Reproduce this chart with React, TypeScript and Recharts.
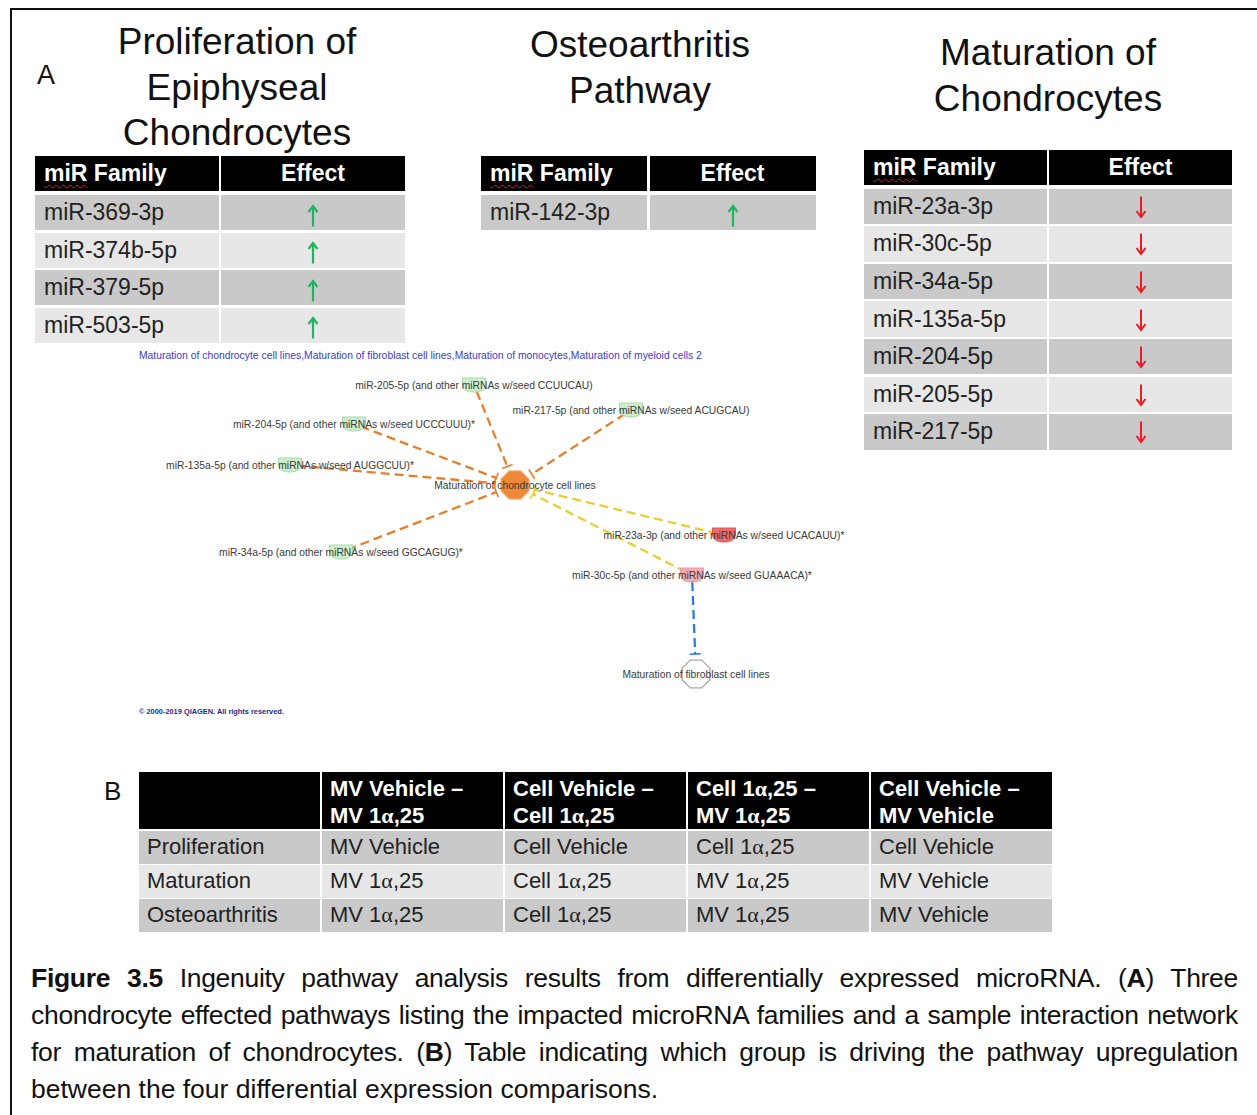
import React from 'react';
import { ScatterChart, Scatter, XAxis, YAxis, ReferenceLine } from 'recharts';

const W = 1257;
const H = 1115;
const FONT = '"Liberation Sans", Arial, Helvetica, sans-serif';
const SERIF = '"Liberation Serif", "Times New Roman", serif';

// ---------- Panel A tables ----------
const tableHeaders = ['miR Family', 'Effect'];
const prolifTitle = ['Proliferation of', 'Epiphyseal', 'Chondrocytes'];
const prolifFamilies = ['miR-369-3p', 'miR-374b-5p', 'miR-379-5p', 'miR-503-5p'];
const prolifEffects = ['up', 'up', 'up', 'up'];
const oaTitle = ['Osteoarthritis', 'Pathway'];
const oaFamilies = ['miR-142-3p'];
const oaEffects = ['up'];
const matTitle = ['Maturation of', 'Chondrocytes'];
const matFamilies = ['miR-23a-3p', 'miR-30c-5p', 'miR-34a-5p', 'miR-135a-5p', 'miR-204-5p', 'miR-205-5p', 'miR-217-5p'];
const matEffects = ['down', 'down', 'down', 'down', 'down', 'down', 'down'];

// ---------- Network ----------
const networkTitle = 'Maturation of chondrocyte cell lines,Maturation of fibroblast cell lines,Maturation of monocytes,Maturation of myeloid cells 2';
const copyright = '\u00a9 2000-2019 QIAGEN. All rights reserved.';
const nodeIds = ['central', 'fibro', 'm205', 'm217', 'm204', 'm135', 'm34', 'm23', 'm30'];
const nodeLabels = [
  'Maturation of chondrocyte cell lines',
  'Maturation of fibroblast cell lines',
  'miR-205-5p (and other miRNAs w/seed CCUUCAU)',
  'miR-217-5p (and other miRNAs w/seed ACUGCAU)',
  'miR-204-5p (and other miRNAs w/seed UCCCUUU)*',
  'miR-135a-5p (and other miRNAs w/seed AUGGCUU)*',
  'miR-34a-5p (and other miRNAs w/seed GGCAGUG)*',
  'miR-23a-3p (and other miRNAs w/seed UCACAUU)*',
  'miR-30c-5p (and other miRNAs w/seed GUAAACA)*',
];
const nodeX = [515, 696, 474, 631, 354, 290, 341, 724, 692];
const nodeY = [485, 674, 385, 410, 424, 465, 552, 535, 575];
const nodeKinds = ['function', 'functionEmpty', 'mirGreen', 'mirGreen', 'mirGreen', 'mirGreen', 'mirGreen', 'mirRed', 'mirPink'];
const edgeFrom = ['m205', 'm217', 'm204', 'm135', 'm34', 'm23', 'm30', 'm30'];
const edgeTo = ['central', 'central', 'central', 'central', 'central', 'central', 'central', 'fibro'];
const edgeKinds = ['orange', 'orange', 'orange', 'orange', 'orange', 'yellow', 'yellow', 'blue'];

// ---------- Panel B table ----------
const compHeaderLine1 = ['', 'MV Vehicle \u2013', 'Cell Vehicle \u2013', 'Cell 1\u03b1,25 \u2013', 'Cell Vehicle \u2013'];
const compHeaderLine2 = ['', 'MV 1\u03b1,25', 'Cell 1\u03b1,25', 'MV 1\u03b1,25', 'MV Vehicle'];
const pathwayNames = ['Proliferation', 'Maturation', 'Osteoarthritis'];
const prolifDrivers = ['MV Vehicle', 'Cell Vehicle', 'Cell 1\u03b1,25', 'Cell Vehicle'];
const matDrivers = ['MV 1\u03b1,25', 'Cell 1\u03b1,25', 'MV 1\u03b1,25', 'MV Vehicle'];
const oaDrivers = ['MV 1\u03b1,25', 'Cell 1\u03b1,25', 'MV 1\u03b1,25', 'MV Vehicle'];

// ---------- Caption ----------
const captionLines = [
  [['b', 'Figure 3.5'], ['n', ' Ingenuity pathway analysis results from differentially expressed microRNA. ('], ['b', 'A'], ['n', ') Three']],
  [['n', 'chondrocyte effected pathways listing the impacted microRNA families and a sample interaction network']],
  [['n', 'for maturation of chondrocytes. ('], ['b', 'B'], ['n', ') Table indicating which group is driving the pathway upregulation']],
  [['n', 'between the four differential expression comparisons.']],
];

const DARK = '#c9c9c9';
const LIGHT = '#e7e7e7';

const EDGE_COLORS: Record<string, string> = { orange: '#e57f2c', yellow: '#e8cd32', blue: '#2d7dd8' };

function withAlpha(s: string) {
  const parts = s.split('\u03b1');
  const out: React.ReactNode[] = [];
  parts.forEach((p, i) => {
    out.push(<span key={'p' + i}>{p}</span>);
    if (i < parts.length - 1) out.push(<span key={'a' + i} style={{ fontFamily: SERIF }}>{'\u03b1'}</span>);
  });
  return out;
}

function Box(props: { left: number; top: number; w: number; h: number; bg: string; children?: React.ReactNode; style?: React.CSSProperties }) {
  return (
    <div
      style={{
        position: 'absolute',
        left: props.left,
        top: props.top,
        width: props.w,
        height: props.h,
        background: props.bg,
        display: 'flex',
        alignItems: 'center',
        boxSizing: 'border-box',
        whiteSpace: 'nowrap',
        ...props.style,
      }}
    >
      {props.children}
    </div>
  );
}

function Arrow(props: { up: boolean }) {
  const color = props.up ? '#1fb45e' : '#ee1c24';
  return (
    <svg width={12} height={23} viewBox="0 0 12 23" style={{ display: 'block' }}>
      {props.up ? (
        <>
          <line x1={6} y1={2} x2={6} y2={22.5} stroke={color} strokeWidth={2.2} />
          <polyline points="1.5,8 6,2 10.5,8" fill="none" stroke={color} strokeWidth={2.2} strokeLinejoin="miter" />
        </>
      ) : (
        <>
          <line x1={6} y1={0.5} x2={6} y2={21} stroke={color} strokeWidth={2} />
          <polyline points="1.5,15 6,21 10.5,15" fill="none" stroke={color} strokeWidth={2} strokeLinejoin="miter" />
        </>
      )}
    </svg>
  );
}

function Title(props: { cx: number; top: number; lines: string[] }) {
  return (
    <div style={{ position: 'absolute', left: props.cx - 250, top: props.top, width: 500, textAlign: 'center', fontSize: 37, lineHeight: '45.5px', color: '#111' }}>
      {props.lines.map((l, i) => (
        <div key={i}>{l}</div>
      ))}
    </div>
  );
}

function MirTable(props: {
  left: number; top: number; colW: number; gap: number; headerH: number; firstRow: number; rowH: number; pitch: number;
  families: string[]; effects: string[];
}) {
  const { left, top, colW, gap, headerH, firstRow, rowH, pitch, families, effects } = props;
  const x2 = left + colW + gap;
  return (
    <>
      <Box left={left} top={top} w={colW} h={headerH} bg="#000" style={{ color: '#fff', fontWeight: 'bold', fontSize: 23, paddingLeft: 9 }}>
        <span style={{ textDecorationLine: 'underline', textDecorationStyle: 'wavy', textDecorationColor: '#d42020', textDecorationThickness: 1, textUnderlineOffset: 3 }}>
          {tableHeaders[0].split(' ')[0]}
        </span>
        &nbsp;{tableHeaders[0].split(' ')[1]}
      </Box>
      <Box left={x2} top={top} w={colW} h={headerH} bg="#000" style={{ color: '#fff', fontWeight: 'bold', fontSize: 23, justifyContent: 'center' }}>
        {tableHeaders[1]}
      </Box>
      {families.map((f, i) => {
        const y = firstRow + i * pitch;
        const bg = i % 2 === 0 ? DARK : LIGHT;
        const up = effects[i] === 'up';
        return (
          <React.Fragment key={f}>
            <Box left={left} top={y} w={colW} h={rowH} bg={bg} style={{ color: '#222', fontSize: 23, paddingLeft: 9 }}>
              {f}
            </Box>
            <Box left={x2} top={y} w={colW} h={rowH} bg={bg} style={{ justifyContent: 'center', paddingTop: up ? 5 : 2 }}>
              <Arrow up={up} />
            </Box>
          </React.Fragment>
        );
      })}
    </>
  );
}

function CompTable() {
  const left = 139;
  const top = 772;
  const colW = 181;
  const gap = 2;
  const headerH = 57;
  const firstRow = 831;
  const rowH = 32.5;
  const pitch = 34;
  const rows = [prolifDrivers, matDrivers, oaDrivers];
  return (
    <>
      {compHeaderLine1.map((h, c) => (
        <Box key={'h' + c} left={left + c * (colW + gap)} top={top} w={colW} h={headerH} bg="#000"
          style={{ color: '#fff', fontWeight: 'bold', fontSize: 22, paddingLeft: 8, display: 'block', paddingTop: 3, lineHeight: '27px' }}>
          <div>{withAlpha(h)}</div>
          <div>{withAlpha(compHeaderLine2[c])}</div>
        </Box>
      ))}
      {pathwayNames.map((p, r) => {
        const y = firstRow + r * pitch;
        const bg = r % 2 === 0 ? DARK : LIGHT;
        return (
          <React.Fragment key={p}>
            <Box left={left} top={y} w={colW} h={rowH} bg={bg} style={{ fontSize: 22, color: '#222', paddingLeft: 8 }}>
              {p}
            </Box>
            {rows[r].map((v, c) => (
              <Box key={c} left={left + (c + 1) * (colW + gap)} top={y} w={colW} h={rowH} bg={bg} style={{ fontSize: 22, color: '#222', paddingLeft: 8 }}>
                {withAlpha(v)}
              </Box>
            ))}
          </React.Fragment>
        );
      })}
    </>
  );
}

function octagon(cx: number, cy: number, r: number) {
  const pts: string[] = [];
  for (let k = 0; k < 8; k++) {
    const a = ((22.5 + 45 * k) * Math.PI) / 180;
    pts.push(`${cx + r * Math.cos(a)},${cy + r * Math.sin(a)}`);
  }
  return pts.join(' ');
}

function NodeShape(props: any) {
  const { cx, cy, payload } = props;
  if (cx == null || cy == null) return <g />;
  const kind = payload.kind;
  let shape: React.ReactNode = null;
  if (kind === 'function') {
    shape = <polygon points={octagon(cx, cy, 15.5)} fill="#ee8736" stroke="#f4c9a4" strokeWidth={1.2} />;
  } else if (kind === 'functionEmpty') {
    shape = <polygon points={octagon(cx, cy, 15)} fill="#ffffff" stroke="#a8a8a8" strokeWidth={1.3} />;
  } else {
    const fill = kind === 'mirGreen' ? '#cdeecd' : kind === 'mirRed' ? '#ee6a6a' : '#f1acb2';
    const stroke = kind === 'mirGreen' ? '#a6dba6' : kind === 'mirRed' ? '#e05858' : '#e69aa0';
    const d = `M${cx - 11.5},${cy - 7} H${cx + 11.5} V${cy - 1} C${cx + 11.5},${cy + 5} ${cx + 6},${cy + 7} ${cx},${cy + 7} C${cx - 6},${cy + 7} ${cx - 11.5},${cy + 5} ${cx - 11.5},${cy - 1} Z`;
    shape = <path d={d} fill={fill} stroke={stroke} strokeWidth={1} />;
  }
  return (
    <g>
      {shape}
      <text x={cx} y={cy} textAnchor="middle" dominantBaseline="central" fontSize={10.3} fill="#3a3a3a" fontFamily={FONT}>
        {payload.label}
      </text>
    </g>
  );
}

function Network() {
  const nodeData = nodeIds.map((id, i) => ({ id, label: nodeLabels[i], x: nodeX[i], y: nodeY[i], kind: nodeKinds[i] }));
  const byId: Record<string, { x: number; y: number }> = {};
  nodeData.forEach((n) => (byId[n.id] = n));
  const edgeSegs = edgeFrom.map((f, i) => {
    const p = byId[f];
    const q = byId[edgeTo[i]];
    const dx = q.x - p.x;
    const dy = q.y - p.y;
    const len = Math.sqrt(dx * dx + dy * dy);
    const ux = dx / len;
    const uy = dy / len;
    const start = { x: p.x + ux * 7, y: p.y + uy * 7 };
    const end = { x: q.x - ux * 20, y: q.y - uy * 20 };
    const bar = [
      { x: end.x - uy * 5.5, y: end.y + ux * 5.5 },
      { x: end.x + uy * 5.5, y: end.y - ux * 5.5 },
    ];
    return { start, end, bar, color: EDGE_COLORS[edgeKinds[i]] };
  });
  return (
    <ScatterChart width={W} height={H} margin={{ top: 0, right: 0, bottom: 0, left: 0 }}>
      <XAxis type="number" dataKey="x" domain={[0, W]} hide />
      <YAxis type="number" dataKey="y" domain={[0, H]} reversed hide />
      {edgeSegs.map((e, i) => (
        <ReferenceLine key={'e' + i} segment={[e.start, e.end]} stroke={e.color} strokeWidth={2.3} strokeDasharray="9 5" ifOverflow="visible" />
      ))}
      {edgeSegs.map((e, i) => (
        <ReferenceLine key={'b' + i} segment={e.bar} stroke={e.color} strokeWidth={1.6} ifOverflow="visible" />
      ))}
      <Scatter data={nodeData} shape={NodeShape} isAnimationActive={false} />
    </ScatterChart>
  );
}

export default function App() {
  return (
    <div style={{ position: 'absolute', left: 0, top: 0, width: W, height: H, overflow: 'hidden', background: '#fff', fontFamily: FONT }}>
      <div style={{ position: 'absolute', left: 10, top: 8, width: 1400, height: 1300, border: '2px solid #111', boxSizing: 'border-box' }} />
      <div style={{ position: 'absolute', left: 0, top: 0 }}>
        <Network />
      </div>

      <div style={{ position: 'absolute', left: 37, top: 60, fontSize: 27, color: '#111' }}>A</div>
      <Title cx={237} top={19} lines={prolifTitle} />
      <Title cx={640} top={22} lines={oaTitle} />
      <Title cx={1048} top={30} lines={matTitle} />

      <MirTable left={35} top={156} colW={184} gap={2} headerH={35} firstRow={195} rowH={35} pitch={37.5} families={prolifFamilies} effects={prolifEffects} />
      <MirTable left={481} top={156} colW={166} gap={2.5} headerH={35} firstRow={195} rowH={35} pitch={37.5} families={oaFamilies} effects={oaEffects} />
      <MirTable left={864} top={149.5} colW={183} gap={2} headerH={35} firstRow={188.5} rowH={35.5} pitch={37.6} families={matFamilies} effects={matEffects} />

      <div style={{ position: 'absolute', left: 139, top: 350, fontSize: 10.35, color: '#3a3ad0', whiteSpace: 'nowrap' }}>{networkTitle}</div>
      <div style={{ position: 'absolute', left: 139, top: 707, fontSize: 7.4, color: '#1f2a8a', whiteSpace: 'nowrap', fontWeight: 'bold' }}>{copyright}</div>

      <div style={{ position: 'absolute', left: 104, top: 776, fontSize: 26, color: '#111' }}>B</div>
      <CompTable />

      <div style={{ position: 'absolute', left: 31, top: 959.5, width: 1207, fontSize: 26.5, lineHeight: '37px', color: '#111' }}>
        {captionLines.map((line, i) => {
          const last = i === captionLines.length - 1;
          return (
            <div key={i} style={{ textAlign: 'justify', textAlignLast: last ? 'left' : 'justify', whiteSpace: 'nowrap', letterSpacing: last ? 0 : -0.3 } as React.CSSProperties}>
              {line.map(([w, t], j) => (w === 'b' ? <b key={j}>{t}</b> : <span key={j}>{t}</span>))}
            </div>
          );
        })}
      </div>
    </div>
  );
}
